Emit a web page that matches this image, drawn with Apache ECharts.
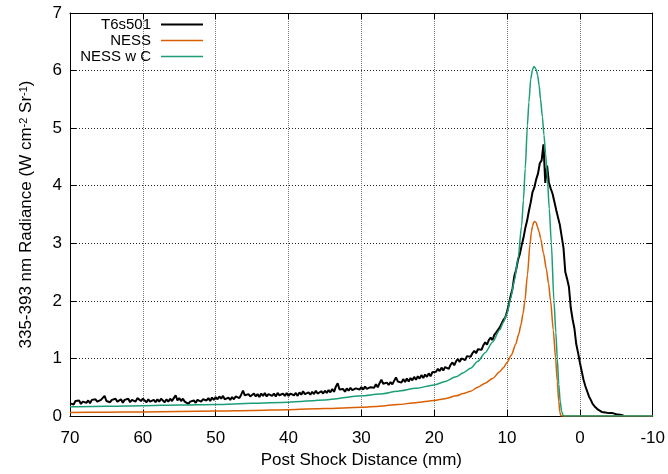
<!DOCTYPE html>
<html>
<head>
<meta charset="utf-8">
<script src="https://cdn.jsdelivr.net/npm/echarts@6/dist/echarts.min.js"></script>
<style>html,body{margin:0;padding:0;background:#fff;}#c{width:668px;height:474px;}</style>
</head>
<body>
<div id="c"></div>
<script>
// ---- data ----
const seriesNames = ['T6s501', 'NESS', 'NESS w C'];
const xTickValues = [70, 60, 50, 40, 30, 20, 10, 0, -10];
const yTickValues = [0, 1, 2, 3, 4, 5, 6, 7];

// measured trace, sampled every 0.25 mm starting at 70 mm
const measStart = 70;
const measStep = -0.25;
const measY = [
  0.22,0.25,0.20,0.26,0.23,0.27,0.21,0.25,0.28,0.23,0.27,0.22,0.28,0.25,0.29,0.25,0.23,0.28,0.30,0.35,0.26,
  0.29,0.24,0.28,0.25,0.30,0.25,0.24,0.29,0.23,0.28,0.25,0.30,0.24,0.28,0.29,0.25,0.31,0.34,0.26,0.30,
  0.27,0.24,0.29,0.25,0.23,0.28,0.24,0.29,0.25,0.30,0.27,0.24,0.29,0.25,0.30,0.26,0.31,0.36,0.27,0.31,
  0.26,0.30,0.25,0.23,0.21,0.25,0.22,0.27,0.23,0.28,0.30,0.25,0.29,0.32,0.27,0.31,0.26,0.32,0.28,0.33,
  0.29,0.34,0.30,0.35,0.29,0.27,0.32,0.28,0.33,0.29,0.34,0.36,0.31,0.37,0.44,0.36,0.33,0.38,0.34,0.37,
  0.39,0.34,0.38,0.33,0.39,0.35,0.40,0.34,0.38,0.41,0.35,0.39,0.34,0.40,0.36,0.33,0.39,0.35,0.40,0.35,
  0.39,0.42,0.36,0.40,0.35,0.41,0.37,0.43,0.38,0.36,0.41,0.37,0.42,0.38,0.44,0.39,0.37,0.43,0.39,0.44,
  0.40,0.45,0.41,0.47,0.42,0.51,0.57,0.46,0.43,0.47,0.42,0.48,0.44,0.49,0.45,0.43,0.48,0.51,0.46,0.50,
  0.46,0.51,0.47,0.45,0.50,0.53,0.49,0.55,0.50,0.57,0.63,0.56,0.53,0.58,0.54,0.59,0.55,0.61,0.67,0.60,
  0.63,0.58,0.64,0.59,0.65,0.60,0.66,0.62,0.68,0.63,0.69,0.65,0.71,0.66,0.72,0.68,0.74,0.69,0.76,0.78,
  0.77,0.82,0.78,0.84,0.79,0.85,0.87,0.82,0.89,0.93,0.88,0.95,0.99,0.94,1.00,1.03,0.97,1.04,1.07,1.03,
  1.09,1.13,1.09,1.16,1.19,1.15,1.23,1.28,1.24,1.32,1.36,1.32,
  1.41,1.45,1.48,1.54,1.57,1.67,1.71,1.81,
  1.94,2.09,2.21,2.43,2.54,2.71,2.81,2.96,3.09,3.26,3.39,3.56,
  3.71,3.89,3.97,4.11,4.21,4.39,4.44,4.72,
  4.05,4.35,4.05,3.95,3.86,3.72,3.58,3.55,3.32,3.12,2.92,2.50,
  2.38,2.24,1.88,1.68,1.52,1.25,1.10,0.93,0.78,0.63,0.52,0.43,
  0.34,0.28,0.21,0.17,0.14,0.11,0.08,0.07,0.06,0.06,0.05,0.05,0.04,0.05,0.03,0.03,0.04,0.02,0.02,0.01
];

// NESS model
const nessX = [70,65,60,55,50,45,40,35,30,27.5,25,22.5,20,18.5,17,16,15,14,13,12,11,10.5,10,9.4,8.8,8.4,8.1,7.8,7.55,7.2,6.85,6.65,6.5,6.35,6.2,6.0,5.84,5.6,5.38,5.0,4.6,4.3,4.02,3.65,3.33,3.1,2.9,2.75,2.6,-10];
const nessY = [0.06,0.065,0.07,0.078,0.085,0.095,0.11,0.13,0.15,0.17,0.2,0.23,0.27,0.3,0.35,0.39,0.43,0.5,0.57,0.65,0.77,0.84,0.93,1.06,1.25,1.42,1.58,1.78,2.0,2.45,2.98,3.2,3.3,3.36,3.38,3.36,3.29,3.2,3.08,2.83,2.55,2.3,2.0,1.49,1.0,0.6,0.25,0.07,0,0];

// NESS with C model
const nesscX = [70,65,60,55,50,45,40,35,30,27.5,25,22.5,20,18.5,17,16,15,14,13,12,11,10.5,10,9.5,9,8.5,8,7.75,7.5,7.2,7.0,6.75,6.5,6.3,6.0,5.8,5.6,5.4,5.15,4.93,4.7,4.47,4.2,3.92,3.56,3.3,3.1,2.9,2.7,2.5,2.3,2.2,-10];
const nesscY = [0.16,0.17,0.18,0.19,0.2,0.22,0.24,0.28,0.35,0.38,0.43,0.48,0.54,0.6,0.68,0.75,0.83,0.95,1.1,1.28,1.5,1.63,1.78,2.05,2.35,2.72,3.3,3.75,4.3,5.05,5.45,5.85,6.02,6.07,6.02,5.92,5.75,5.5,5.2,4.88,4.55,4.15,3.6,3.0,2.0,1.45,1.0,0.55,0.25,0.08,0.01,0,0];

// ---- build ----
const measData = measY.map((v, i) => [measStart + measStep * i, v]);
const nessData = nessX.map((x, i) => [x, nessY[i]]);
const nesscData = nesscX.map((x, i) => [x, nesscY[i]]);

const FONT = '"Liberation Sans", Arial, sans-serif';
const colors = ['#000000', '#d95f02', '#1b9e77'];

const chart = echarts.init(document.getElementById('c'), null, {renderer: 'canvas'});

const baseX = {
  type: 'value', inverse: true, min: -10, max: 70, interval: 10,
  axisLine: {show: true, onZero: false, lineStyle: {color: '#000', width: 1}},
  axisTick: {show: true, inside: true, length: 6, lineStyle: {color: '#000'}},
};
const baseY = {
  type: 'value', min: 0, max: 7, interval: 1,
  axisLine: {show: true, onZero: false, lineStyle: {color: '#000', width: 1}},
  axisTick: {show: true, inside: true, length: 6, lineStyle: {color: '#000'}},
};

function legendFor(i, top) {
  return {
    show: true, orient: 'horizontal', align: 'right', right: 465, top: top, padding: 0,
    selectedMode: false, icon: 'rect', itemWidth: 42, itemHeight: i === 0 ? 2 : 1.5,
    data: [seriesNames[i]],
    textStyle: {fontFamily: FONT, fontSize: 15, color: '#000', padding: [0, 5, 0, 0]}
  };
}

chart.setOption({
  animation: false,
  backgroundColor: '#fff',
  color: colors,
  grid: {left: 70, right: 12, top: 13, bottom: 58, containLabel: false},
  legend: [legendFor(0, 17), legendFor(1, 33), legendFor(2, 49)],
  xAxis: [
    Object.assign({}, baseX, {
      position: 'bottom',
      axisLabel: {show: true, fontFamily: FONT, fontSize: 17, color: '#000', margin: 14,
        customValues: xTickValues},
      splitLine: {show: true, lineStyle: {color: '#777', type: [1, 1], width: 1}},
      name: 'Post Shock Distance (mm)', nameLocation: 'middle', nameGap: 33,
      nameTextStyle: {fontFamily: FONT, fontSize: 17, color: '#000'}
    }),
    Object.assign({}, baseX, {
      position: 'top', axisLabel: {show: false}, splitLine: {show: false}
    })
  ],
  yAxis: [
    Object.assign({}, baseY, {
      position: 'left',
      axisLabel: {show: true, fontFamily: FONT, fontSize: 17, color: '#000', margin: 8,
        customValues: yTickValues},
      splitLine: {show: true, lineStyle: {color: '#222', type: [1, 2], width: 1}},
      name: '335-393 nm Radiance (W cm{s|-2} Sr{s|-1})', nameLocation: 'middle', nameGap: 35,
      nameTextStyle: {fontFamily: FONT, fontSize: 17, color: '#000',
        rich: {s: {fontFamily: FONT, fontSize: 11, color: '#000', verticalAlign: 'top'}}}
    }),
    Object.assign({}, baseY, {
      position: 'right', axisLabel: {show: false}, splitLine: {show: false}
    })
  ],
  series: [
    {name: seriesNames[0], type: 'line', data: measData, showSymbol: false, symbol: 'none',
      lineStyle: {color: colors[0], width: 2}, clip: true, z: 3},
    {name: seriesNames[1], type: 'line', data: nessData, showSymbol: false, symbol: 'none',
      smooth: 0.25, smoothMonotone: 'x',
      lineStyle: {color: colors[1], width: 1.5}, clip: true, z: 4},
    {name: seriesNames[2], type: 'line', data: nesscData, showSymbol: false, symbol: 'none',
      smooth: 0.25, smoothMonotone: 'x',
      lineStyle: {color: colors[2], width: 1.5}, clip: true, z: 5}
  ]
});
</script>
</body>
</html>
